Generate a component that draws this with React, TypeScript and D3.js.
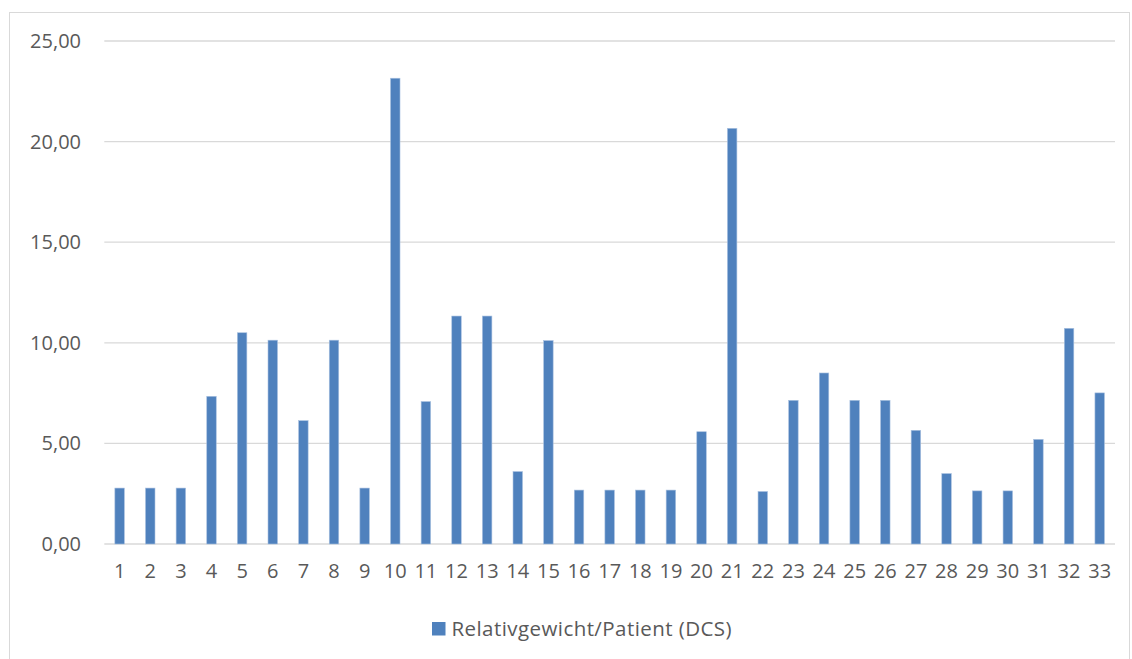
import React from "react";
import * as d3 from "d3";

const categories: string[] = Array.from({ length: 33 }, (_, i) => String(i + 1));
const values: number[] = [
  2.78, 2.78, 2.78, 7.34, 10.5, 10.13, 6.13, 10.13, 2.78, 23.15, 7.08,
  11.33, 11.33, 3.6, 10.11, 2.68, 2.68, 2.68, 2.68, 5.58, 20.66, 2.61,
  7.14, 8.5, 7.14, 7.14, 5.65, 3.5, 2.64, 2.64, 5.2, 10.72, 7.51,
];
const yTicks: number[] = [0, 5, 10, 15, 20, 25];
const seriesName = "Relativgewicht/Patient (DCS)";

const W = 1132;
const H = 659;
const left = 104.3;
const right = 1115;
const top = 41;
const bottom = 544;
const font = "'Open Sans', 'Liberation Sans', sans-serif";
const textColor = "#595959";
const barColor = "#4F81BD";

export default function App() {
  const x = d3.scaleBand<string>().domain(categories).range([left, right]).paddingInner(0.69).paddingOuter(0.345);
  const y = d3.scaleLinear().domain([0, 25]).range([bottom, top]);
  const fmt = (v: number) => v.toFixed(2).replace(".", ",");
  return (
    <svg width={W} height={H} style={{ position: "absolute", left: 0, top: 0 }}>
      <rect x={0} y={0} width={W} height={H} fill="#fff" />
      <rect x={9.5} y={12.5} width={1120} height={660} fill="none" stroke="#D9D9D9" strokeWidth={1} />
      {yTicks.map((t) => (
        <g key={t}>
          <line x1={left} x2={right} y1={y(t)} y2={y(t)} stroke="#D9D9D9" strokeWidth={1.3} />
          <text x={81} y={y(t)} dy="0.35em" textAnchor="end" fontFamily={font} fontSize={20} fill={textColor}>
            {fmt(t)}
          </text>
        </g>
      ))}
      {values.map((v, i) => (
        <rect
          key={i}
          x={x(categories[i])!}
          y={y(v)}
          width={x.bandwidth()}
          height={y(0) - y(v)}
          fill={barColor}
          stroke="#A9C1E0"
          strokeWidth={0.6}
        />
      ))}
      {categories.map((c) => (
        <text key={c} x={x(c)! + x.bandwidth() / 2} y={571} dy="0.35em" textAnchor="middle" fontFamily={font} fontSize={20} fill={textColor}>
          {c}
        </text>
      ))}
      <rect x={432} y={622} width={13.5} height={13.5} fill={barColor} />
      <text x={451.5} y={629} dy="0.35em" fontFamily={font} fontSize={20.5} fill={textColor} textLength={280} lengthAdjust="spacing">
        {seriesName}
      </text>
    </svg>
  );
}
